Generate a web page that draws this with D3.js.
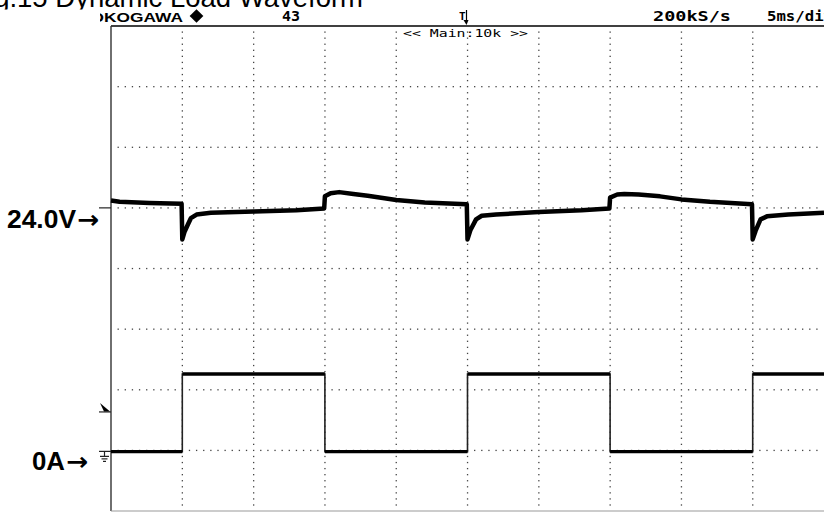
<!DOCTYPE html>
<html>
<head>
<meta charset="utf-8">
<script src="https://cdn.jsdelivr.net/npm/d3@7"></script>
<style>
  html, body { margin: 0; padding: 0; background: #fff; }
  svg { display: block; }
</style>
</head>
<body>
<svg id="scope" width="824" height="512"></svg>
<script>
// scope screen: 10 divisions across at 5 ms/div, 8 divisions high
const msPerDiv = 5;
const timeDivs = 10;
const voltDivs = 8;

// CH1 output voltage, [time ms, divisions from screen centre]
const voltageTrace = [
  [0.0, 1.12], [0.6, 1.10], [2.7, 1.08], [4.95, 1.07],
  [5.0, 0.48], [5.15, 0.60], [5.4, 0.73], [5.6, 0.83], [6.0, 0.89], [7.0, 0.92],
  [10.0, 0.94], [13.0, 0.96], [14.95, 0.99],
  [15.0, 1.19], [15.4, 1.24], [16.0, 1.26], [17.0, 1.23], [18.0, 1.20],
  [20.0, 1.13], [22.0, 1.09], [24.95, 1.06],
  [25.0, 0.48], [25.2, 0.63], [25.6, 0.81], [26.0, 0.87], [27.0, 0.89],
  [30.0, 0.93], [33.0, 0.96], [34.95, 0.99],
  [35.0, 1.17], [35.5, 1.22], [36.0, 1.23], [37.0, 1.22], [38.5, 1.19],
  [40.0, 1.14], [42.0, 1.10], [44.95, 1.06],
  [45.0, 0.48], [45.2, 0.62], [45.55, 0.81], [46.0, 0.86], [47.5, 0.89], [50.0, 0.92]
];

// CH2 load current, [time ms, divisions from screen centre]
const currentTrace = [
  [0, -3.02], [5, -3.02], [5, -1.74], [15, -1.74], [15, -3.02],
  [25, -3.02], [25, -1.74], [35, -1.74], [35, -3.02],
  [45, -3.02], [45, -1.74], [50, -1.74]
];

// channel reference levels (divisions from centre)
const voltRef = 1.0;
const currentRef = -3.0;
const trigLevel = -2.3;

const titleText = 'Fig.15 Dynamic Load Waveform';
const headerLabels = ['YOKOGAWA', '43', '200kS/s', '5ms/div'];
const zoomLabel = '<< Main:10k >>';
const voltLabel = '24.0V';
const currentLabel = '0A';
const arrowGlyph = '\u2192';

const svg = d3.select('#scope');
const frame = {left: 111, top: 26, right: 824, bottom: 511};

const x = d3.scaleLinear()
  .domain([0, timeDivs * msPerDiv])
  .range([frame.left, frame.right]);

const y = d3.scaleLinear()
  .domain([-voltDivs / 2, voltDivs / 2])
  .range([frame.bottom, frame.top]);

const defs = svg.append('defs');
defs.append('clipPath').attr('id', 'title-clip')
  .append('rect').attr('x', 0).attr('y', -40).attr('width', 824).attr('height', 49.5);
defs.append('clipPath').attr('id', 'brand-clip')
  .append('rect').attr('x', 100).attr('y', 0).attr('width', 724).attr('height', 26);

// title (cut off at the top of the page)
svg.append('text')
  .attr('clip-path', 'url(#title-clip)')
  .attr('x', 363)
  .attr('y', 7)
  .attr('text-anchor', 'end')
  .style('font-family', 'Liberation Sans, Arial, sans-serif')
  .style('font-size', '27.5px')
  .text(titleText);

// header row
const header = svg.append('g')
  .style('font-family', 'DejaVu Sans Mono, monospace')
  .style('font-weight', 'bold');

header.append('text')
  .attr('clip-path', 'url(#brand-clip)')
  .attr('x', 79).attr('y', 22)
  .attr('textLength', 104).attr('lengthAdjust', 'spacingAndGlyphs')
  .style('font-family', 'Liberation Sans, Arial, sans-serif')
  .style('font-size', '13px')
  .text(headerLabels[0]);

header.append('path')
  .attr('transform', 'translate(196.5,16)')
  .attr('d', d3.symbol(d3.symbolDiamond2, 120)());

header.append('text')
  .attr('x', 282).attr('y', 20.5)
  .attr('textLength', 18).attr('lengthAdjust', 'spacingAndGlyphs')
  .style('font-size', '14px')
  .text(headerLabels[1]);

header.append('text')
  .attr('x', 653).attr('y', 21)
  .attr('textLength', 78).attr('lengthAdjust', 'spacingAndGlyphs')
  .style('font-size', '13.5px')
  .text(headerLabels[2]);

header.append('text')
  .attr('x', 767).attr('y', 21)
  .attr('textLength', 66).attr('lengthAdjust', 'spacingAndGlyphs')
  .style('font-size', '13.5px')
  .text(headerLabels[3]);

// trigger position marker
const trigX = x(timeDivs * msPerDiv / 2);
header.append('text')
  .attr('x', trigX - 2).attr('y', 20)
  .attr('text-anchor', 'end')
  .style('font-size', '11px')
  .text('T');
header.append('line')
  .attr('x1', trigX - 1).attr('x2', trigX - 1)
  .attr('y1', 10).attr('y2', 22)
  .attr('stroke', '#000').attr('stroke-width', 1.2);
header.append('path')
  .attr('transform', `translate(${trigX - 1},22)`)
  .attr('d', 'M-3,-2L2,-2L0,3Z');

// grid: dotted lines every division, dots every tenth of a division
const grid = svg.append('g').attr('fill', '#444');

d3.range(1, timeDivs).forEach((i) => {
  const gx = x(i * msPerDiv);
  d3.range(1, voltDivs * 10).forEach((k) => {
    grid.append('rect')
      .attr('x', gx - 0.6)
      .attr('y', y(-voltDivs / 2 + k / 10) - 0.6)
      .attr('width', 1.3).attr('height', 1.3);
  });
});

d3.range(1, voltDivs).forEach((j) => {
  const gy = y(-voltDivs / 2 + j);
  d3.range(1, timeDivs * 10).forEach((k) => {
    if (k % 10 === 0) return;
    grid.append('rect')
      .attr('x', x(k * msPerDiv / 10) - 0.6)
      .attr('y', gy - 0.6)
      .attr('width', 1.3).attr('height', 1.3);
  });
});

// frame
svg.append('line')
  .attr('x1', frame.left).attr('x2', frame.right)
  .attr('y1', frame.top).attr('y2', frame.top)
  .attr('stroke', '#000').attr('stroke-width', 1.6);
svg.append('line')
  .attr('x1', frame.left).attr('x2', frame.left)
  .attr('y1', frame.top).attr('y2', frame.bottom)
  .attr('stroke', '#333').attr('stroke-width', 1.4);
svg.append('line')
  .attr('x1', frame.left).attr('x2', frame.right)
  .attr('y1', frame.bottom).attr('y2', frame.bottom)
  .attr('stroke', '#999').attr('stroke-width', 1.2);

// <<Main:10k>> zoom label
svg.append('text')
  .attr('x', 403).attr('y', 37)
  .attr('textLength', 125).attr('lengthAdjust', 'spacingAndGlyphs')
  .style('font-family', 'DejaVu Sans Mono, monospace')
  .style('font-size', '10px')
  .text(zoomLabel);

// voltage trace
const line = d3.line()
  .x((d) => x(d[0]))
  .y((d) => y(d[1]));

svg.append('path')
  .datum(voltageTrace)
  .attr('fill', 'none')
  .attr('stroke', '#000')
  .attr('stroke-width', 4.5)
  .attr('stroke-linejoin', 'round')
  .attr('d', line);

// current trace: thin edges, thick levels
svg.append('path')
  .datum(currentTrace)
  .attr('fill', 'none')
  .attr('stroke', '#222')
  .attr('stroke-width', 1.6)
  .attr('d', line);

const levels = currentTrace.filter((d, i) => i % 2 === 0)
  .map((d, i) => [d, currentTrace[i * 2 + 1]]);

svg.append('g').selectAll('line')
  .data(levels)
  .join('line')
  .attr('x1', (d) => x(d[0][0]))
  .attr('x2', (d) => x(d[1][0]))
  .attr('y1', (d) => y(d[0][1]))
  .attr('y2', (d) => y(d[1][1]))
  .attr('stroke', '#000')
  .attr('stroke-width', 3.4);

// channel markers on the left edge
const markers = svg.append('g').attr('stroke', '#222').attr('stroke-width', 1.2);
markers.append('line')
  .attr('x1', 99).attr('x2', frame.left)
  .attr('y1', y(voltRef)).attr('y2', y(voltRef));

const ty = y(trigLevel);
markers.append('line')
  .attr('x1', 99).attr('x2', frame.left)
  .attr('y1', ty + 4).attr('y2', ty + 4);
svg.append('path')
  .attr('transform', `translate(0,${ty})`)
  .attr('d', 'M100,-5L110,3.5L104,3.5Z');

const gy0 = y(currentRef);
markers.append('line')
  .attr('x1', 99).attr('x2', frame.left)
  .attr('y1', gy0 + 1).attr('y2', gy0 + 1);
markers.append('line')
  .attr('x1', 104.5).attr('x2', 104.5)
  .attr('y1', gy0 + 1).attr('y2', gy0 + 6);
markers.append('line')
  .attr('x1', 100).attr('x2', 109)
  .attr('y1', gy0 + 6).attr('y2', gy0 + 6);
markers.append('line')
  .attr('x1', 101.5).attr('x2', 107.5)
  .attr('y1', gy0 + 8.5).attr('y2', gy0 + 8.5);
markers.append('line')
  .attr('x1', 103).attr('x2', 106)
  .attr('y1', gy0 + 11).attr('y2', gy0 + 11);

// left labels with bold arrows
const labels = svg.append('g')
  .style('font-weight', 'bold')
  .style('font-size', '25px');

const addLabel = (txt, x0, w, baseline) => {
  labels.append('text')
    .attr('x', x0).attr('y', baseline)
    .attr('textLength', w).attr('lengthAdjust', 'spacingAndGlyphs')
    .style('font-family', 'Liberation Sans, Arial, sans-serif')
    .text(txt);
  labels.append('text')
    .attr('x', x0 + w + 1).attr('y', baseline - 0.5)
    .attr('textLength', 22).attr('lengthAdjust', 'spacingAndGlyphs')
    .style('font-family', 'DejaVu Sans, sans-serif')
    .text(arrowGlyph);
};

addLabel(voltLabel, 7, 69, 228);
addLabel(currentLabel, 32, 33, 470);
</script>
</body>
</html>
